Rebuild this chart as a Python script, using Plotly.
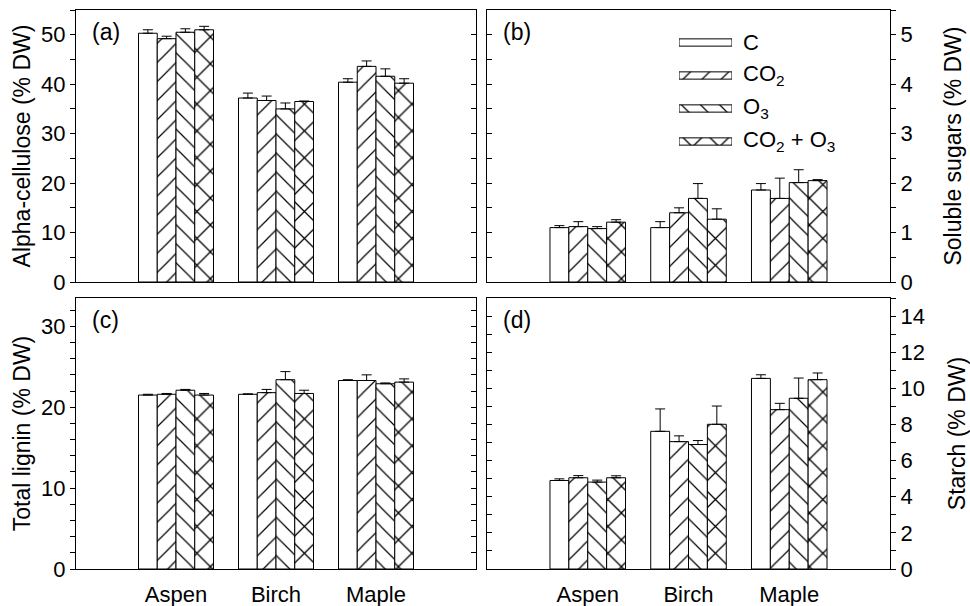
import plotly.graph_objects as go

# ---------------- data ----------------
species = ["Aspen", "Birch", "Maple"]
treatments = ["C", "CO<sub>2</sub>", "O<sub>3</sub>", "CO<sub>2</sub> + O<sub>3</sub>"]

# (a) Alpha-cellulose (% DW)
cell_C = [50.3, 37.2, 40.4]
cell_CO2 = [49.2, 36.7, 43.6]
cell_O3 = [50.5, 35.0, 41.6]
cell_CO2O3 = [51.0, 36.5, 40.2]
cell_C_se = [0.7, 1.0, 0.7]
cell_CO2_se = [0.5, 0.9, 1.1]
cell_O3_se = [0.7, 1.2, 1.5]
cell_CO2O3_se = [0.7, 0.1, 0.9]

# (b) Soluble sugars (% DW)
sug_C = [1.10, 1.10, 1.86]
sug_CO2 = [1.12, 1.40, 1.69]
sug_O3 = [1.08, 1.69, 2.01]
sug_CO2O3 = [1.21, 1.27, 2.05]
sug_C_se = [0.04, 0.12, 0.13]
sug_CO2_se = [0.10, 0.10, 0.41]
sug_O3_se = [0.04, 0.30, 0.26]
sug_CO2O3_se = [0.05, 0.21, 0.02]

# (c) Total lignin (% DW)
lig_C = [21.5, 21.6, 23.3]
lig_CO2 = [21.6, 21.8, 23.3]
lig_O3 = [22.1, 23.4, 22.9]
lig_CO2O3 = [21.5, 21.7, 23.1]
lig_C_se = [0.1, 0.05, 0.1]
lig_CO2_se = [0.1, 0.4, 0.7]
lig_O3_se = [0.1, 1.0, 0.1]
lig_CO2O3_se = [0.2, 0.4, 0.4]

# (d) Starch (% DW)
sta_C = [4.90, 7.62, 10.55]
sta_CO2 = [5.05, 7.05, 8.82]
sta_O3 = [4.81, 6.89, 9.45]
sta_CO2O3 = [5.05, 8.01, 10.48]
sta_C_se = [0.09, 1.24, 0.20]
sta_CO2_se = [0.12, 0.32, 0.35]
sta_O3_se = [0.11, 0.22, 1.12]
sta_CO2O3_se = [0.11, 1.01, 0.37]

panel_labels = ["(a)", "(b)", "(c)", "(d)"]
y_titles = ["Alpha-cellulose (% DW)", "Soluble sugars (% DW)",
            "Total lignin (% DW)", "Starch (% DW)"]

# ---------------- styling ----------------
FONT = "Liberation Sans, Arial, Helvetica, sans-serif"
W, H = 970, 606
patterns = ["", "/", "\\", "x"]
pattern_sizes = [13.5, 13.5, 13.5, 19]
pattern_solid = [0.09, 0.09, 0.09, 0.13]
TICK_SIZE = 22
TITLE_SIZE = 23

def px_x(a, b):
    return [a / W, b / W]

def px_y(top, bottom):
    return [1 - bottom / H, 1 - top / H]

LEFT_X = px_x(76, 476)
RIGHT_X = px_x(487, 890)
TOP_Y = px_y(10, 282)
BOT_Y = px_y(298, 569)

panels = [
    dict(vals=[cell_C, cell_CO2, cell_O3, cell_CO2O3],
         se=[cell_C_se, cell_CO2_se, cell_O3_se, cell_CO2O3_se],
         xd=LEFT_X, yd=TOP_Y, rng=[0, 55], dt=10, mdt=5, side="left",
         xlabels=False, standoff=4),
    dict(vals=[sug_C, sug_CO2, sug_O3, sug_CO2O3],
         se=[sug_C_se, sug_CO2_se, sug_O3_se, sug_CO2O3_se],
         xd=RIGHT_X, yd=TOP_Y, rng=[0, 5.5], dt=1, mdt=0.5, side="right",
         xlabels=False, standoff=33),
    dict(vals=[lig_C, lig_CO2, lig_O3, lig_CO2O3],
         se=[lig_C_se, lig_CO2_se, lig_O3_se, lig_CO2O3_se],
         xd=LEFT_X, yd=BOT_Y, rng=[0, 33.5], dt=10, mdt=2, side="left",
         xlabels=True, standoff=4),
    dict(vals=[sta_C, sta_CO2, sta_O3, sta_CO2O3],
         se=[sta_C_se, sta_CO2_se, sta_O3_se, sta_CO2O3_se],
         xd=RIGHT_X, yd=BOT_Y, rng=[0, 15], dt=2, mdt=1, side="right",
         xlabels=True, standoff=26),
]

fig = go.Figure()
layout = {}
annotations = []

def pat(j):
    return dict(shape=patterns[j], size=pattern_sizes[j], solidity=pattern_solid[j],
                fgcolor="black", bgcolor="white", fgopacity=1, fillmode="replace")

for i, p in enumerate(panels):
    n = i + 1
    xa = "x" if n == 1 else f"x{n}"
    ya = "y" if n == 1 else f"y{n}"
    for j, (v, e) in enumerate(zip(p["vals"], p["se"])):
        fig.add_trace(go.Bar(
            x=species, y=v, xaxis=xa, yaxis=ya,
            name=treatments[j], showlegend=False, offsetgroup=str(j),
            marker=dict(color="white",
                        line=dict(color="black", width=1),
                        pattern=pat(j)),
            error_y=dict(type="data", array=e, arrayminus=[0] * len(e),
                         symmetric=False, color="black", thickness=1, width=5),
        ))
    xkey = "xaxis" if n == 1 else f"xaxis{n}"
    ykey = "yaxis" if n == 1 else f"yaxis{n}"
    layout[xkey] = dict(
        domain=p["xd"], anchor=ya, type="category", range=[-1, 3],
        showline=True, linecolor="black", linewidth=1, mirror=True,
        ticks="", showgrid=False, zeroline=False, automargin=False,
        showticklabels=p["xlabels"],
        tickfont=dict(family=FONT, size=TICK_SIZE, color="black"),
        ticklabelstandoff=6,
    )
    layout[ykey] = dict(
        domain=p["yd"], anchor=xa, range=p["rng"], side=p["side"],
        showline=True, linecolor="black", linewidth=1, mirror=True,
        ticks="outside", ticklen=5, tickcolor="black", dtick=p["dt"], tick0=0,
        minor=dict(ticks="outside", ticklen=5, dtick=p["mdt"], tick0=0,
                   tickcolor="black", showgrid=False),
        showgrid=False, zeroline=False, automargin=False,
        tickfont=dict(family=FONT, size=TICK_SIZE, color="black"),
        title=dict(text=y_titles[i], font=dict(family=FONT, size=TITLE_SIZE, color="black"),
                   standoff=p["standoff"]),
    )
    # inside ticks on the opposite side
    on = n + 4
    layout[f"yaxis{on}"] = dict(
        overlaying=ya, anchor=xa, range=p["rng"],
        side="right" if p["side"] == "left" else "left",
        showline=False, ticks="inside", ticklen=5, tickcolor="black",
        dtick=p["dt"], tick0=0, showticklabels=False, showgrid=False, zeroline=False,
        automargin=False,
        minor=dict(ticks="inside", ticklen=5, dtick=p["mdt"], tick0=0,
                   tickcolor="black", showgrid=False),
    )
    fig.add_trace(go.Scatter(x=[None], y=[None], xaxis=xa, yaxis=f"y{on}",
                             showlegend=False, hoverinfo="skip"))
    annotations.append(dict(
        text=panel_labels[i], xref=f"{xa} domain", yref=f"{ya} domain",
        x=0.035, y=0.975, xanchor="left", yanchor="top", showarrow=False,
        font=dict(family=FONT, size=TITLE_SIZE, color="black")))

# ---------------- legend key inside panel (b) ----------------
LEG_X = px_x(679, 732)
LEG_Y = px_y(26, 158)
key_len = [1, 1, 1, 1]
for j in range(4):
    fig.add_trace(go.Bar(
        x=[key_len[j]], y=[j], orientation="h", width=0.22,
        xaxis="x9", yaxis="y9", showlegend=False, hoverinfo="skip",
        marker=dict(color="white", line=dict(color="black", width=1),
                    pattern=pat(j)),
    ))
    annotations.append(dict(
        text=treatments[j], xref="x9", yref="y9", x=key_len[j], y=j,
        xanchor="left", yanchor="middle", xshift=9, showarrow=False,
        font=dict(family=FONT, size=TICK_SIZE, color="black")))
layout["xaxis9"] = dict(domain=LEG_X, anchor="y9", range=[0, 1], visible=False,
                        fixedrange=True, automargin=False)
layout["yaxis9"] = dict(domain=LEG_Y, anchor="x9", range=[3.5, -0.5], visible=False,
                        fixedrange=True, automargin=False)

fig.update_layout(
    width=W, height=H,
    margin=dict(l=0, r=0, t=0, b=0, autoexpand=False),
    paper_bgcolor="white", plot_bgcolor="white",
    barmode="group", bargap=0.25, bargroupgap=0,
    font=dict(family=FONT, color="black"),
    annotations=annotations,
    showlegend=False,
    **layout,
)

fig.write_html("out.html",
               config={"displayModeBar": False},
               post_script="document.body.style.margin='0px';"
                           "document.body.style.overflow='hidden';")
